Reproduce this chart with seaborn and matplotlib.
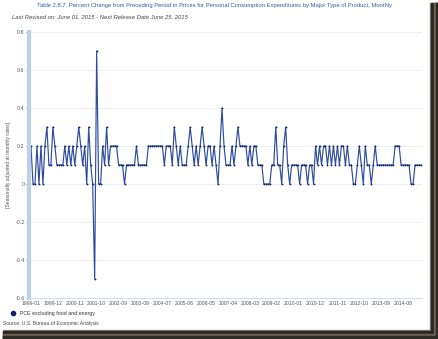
import numpy as np
import pandas as pd
import matplotlib
matplotlib.use("Agg")
import matplotlib.pyplot as plt
from matplotlib.patches import Rectangle
import seaborn as sns

# Monthly percent change, PCE excluding food and energy, 1999-01 .. 2015-04
start_month = "1999-01"
pce_core = [
    0.2, 0.0, 0.0, 0.2, 0.0, 0.2, 0.0, 0.2, 0.3, 0.1,
    0.1, 0.3, 0.2, 0.1, 0.1, 0.1, 0.1, 0.2, 0.1, 0.2,
    0.1, 0.2, 0.1, 0.2, 0.3, 0.2, 0.1, 0.2, 0.0, 0.3,
    0.1, 0.0, -0.5, 0.7, 0.0, 0.0, 0.2, 0.1, 0.3, 0.1,
    0.2, 0.2, 0.2, 0.2, 0.1, 0.1, 0.1, 0.0, 0.1, 0.1,
    0.1, 0.1, 0.1, 0.2, 0.1, 0.1, 0.1, 0.1, 0.1, 0.2,
    0.2, 0.2, 0.2, 0.2, 0.2, 0.2, 0.2, 0.1, 0.2, 0.2,
    0.2, 0.1, 0.3, 0.2, 0.1, 0.2, 0.1, 0.1, 0.1, 0.2,
    0.3, 0.2, 0.1, 0.2, 0.1, 0.2, 0.3, 0.2, 0.1, 0.2,
    0.2, 0.1, 0.2, 0.1, 0.0, 0.2, 0.4, 0.2, 0.1, 0.1,
    0.1, 0.2, 0.1, 0.2, 0.3, 0.2, 0.2, 0.2, 0.2, 0.1,
    0.2, 0.1, 0.2, 0.2, 0.1, 0.1, 0.1, 0.0, 0.0, 0.0,
    0.0, 0.1, 0.1, 0.3, 0.1, 0.1, 0.0, 0.2, 0.3, 0.1,
    0.0, 0.1, 0.1, 0.1, 0.1, 0.0, 0.1, 0.1, 0.1, 0.0,
    0.1, 0.1, 0.0, 0.2, 0.1, 0.2, 0.1, 0.2, 0.2, 0.1,
    0.2, 0.1, 0.2, 0.1, 0.2, 0.1, 0.2, 0.2, 0.1, 0.2,
    0.1, 0.1, 0.0, 0.0, 0.1, 0.2, 0.1, 0.0, 0.2, 0.1,
    0.1, 0.0, 0.1, 0.2, 0.1, 0.1, 0.1, 0.1, 0.1, 0.1,
    0.1, 0.1, 0.1, 0.2, 0.2, 0.2, 0.1, 0.1, 0.1, 0.1,
    0.1, 0.0, 0.0, 0.1, 0.1, 0.1, 0.1,
]
y_ticks = [0.8, 0.6, 0.4, 0.2, 0.0, -0.2, -0.4, -0.6]
y_tick_labels = ["0.8", "0.6", "0.4", "0.2", "0", "-0.2", "-0.4", "-0.6"]
x_tick_step = 11

title = ("Table 2.8.7. Percent Change from Preceding Period in Prices for Personal "
         "Consumption Expenditures by Major Type of Product, Monthly")
subtitle = "Last Revised on: June 01, 2015 - Next Release Date June 25, 2015"
y_label = "[Seasonally adjusted at monthly rates]"
series_name = "PCE excluding food and energy"
source = "Source: U.S. Bureau of Economic Analysis"

periods = pd.period_range(start=start_month, periods=len(pce_core), freq="M")
df = pd.DataFrame({"idx": np.arange(len(pce_core)), "value": pce_core,
                   "period": periods.strftime("%Y-%m")})

sns.set_theme(style="white")
plt.rcParams["font.family"] = ["Liberation Sans", "DejaVu Sans"]

W, H = 439, 339
fig = plt.figure(figsize=(W / 100, H / 100), dpi=100)
fig.patch.set_facecolor("white")

# card drop shadow along right and bottom edges
shadow_bands = [(0, "#8d8a86"), (1, "#2a2622"), (4, "#6e6152"), (6, "#2e2a26")]
for off, col in shadow_bands:
    fig.patches.append(Rectangle(((430 + off) / W, 0), 1, 1 - 3 / H,
                                 transform=fig.transFigure, color=col, zorder=0))
    fig.patches.append(Rectangle((3 / W, 0), 1, (9 - off) / H,
                                 transform=fig.transFigure, color=col, zorder=0))

ax = fig.add_axes([29 / W, 41 / H, (422 - 29) / W, (298 - 32) / H])
ax.set_facecolor("white")

sns.lineplot(data=df, x="idx", y="value", ax=ax, color="#2d4c9e",
             linewidth=0.85, marker="o", markersize=1.3,
             markerfacecolor="#0e2170", markeredgewidth=0, legend=False)

ax.set_xlim(-1, len(pce_core) - 0.5)
ax.set_ylim(-0.6, 0.8)
ax.set_yticks(y_ticks)
ax.set_yticklabels(y_tick_labels)
xt = df["idx"][::x_tick_step]
ax.set_xticks(xt)
ax.set_xticklabels(df["period"][::x_tick_step])
ax.tick_params(axis="y", labelsize=3.8, colors="#555555", length=2.5, width=0.5,
               pad=0.8, left=True)
ax.tick_params(axis="x", labelsize=3.7, colors="#555555", length=0, pad=2.5)
ax.grid(axis="y", color="#e8ecf2", linewidth=0.6)
ax.set_axisbelow(True)
for s in ["top", "right"]:
    ax.spines[s].set_visible(False)
ax.spines["left"].set_color("#bdd0e6")
ax.spines["left"].set_linewidth(3.0)
ax.spines["bottom"].set_color("#c9d6e6")
ax.spines["bottom"].set_linewidth(0.6)
ax.set_xlabel("")
ax.set_ylabel(y_label, fontsize=3.6, color="#555555", labelpad=3)

fig.text(215 / W, 1 - 6 / H, title, ha="center", va="center",
         fontsize=4.2, color="#3a58a8")
fig.text(12 / W, 1 - 17 / H, subtitle, ha="left", va="center",
         fontsize=4.2, color="#444444", style="italic")

fig.text(20 / W, 1 - 313 / H, series_name, ha="left", va="center",
         fontsize=3.8, color="#333333")
fig.lines.append(plt.Line2D([13 / W], [1 - 313 / H], marker="o", markersize=3,
                            color="#0e2170", transform=fig.transFigure))
fig.text(3 / W, 1 - 323 / H, source, ha="left", va="center",
         fontsize=3.6, color="#444444")

fig.savefig("out.png", dpi=100, facecolor=fig.get_facecolor())
